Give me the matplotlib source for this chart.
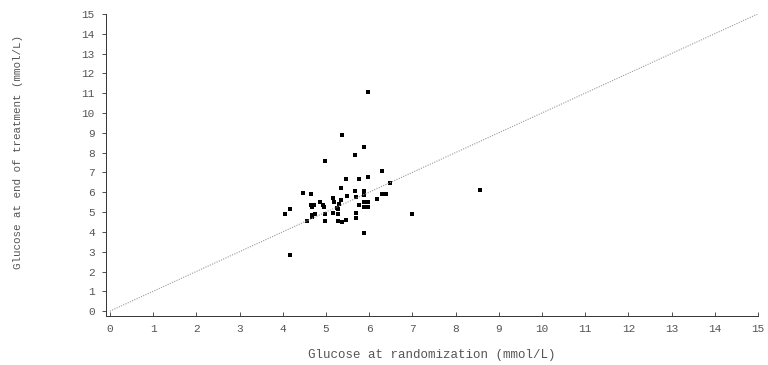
#!/usr/bin/env python3
from matplotlib import pyplot as plt
import numpy as np

# glucose at randomization (x) and at end of treatment (y), mmol/L
glucose_rand = [5.37, 5.89, 5.68, 4.97, 6.30, 5.46, 5.76, 5.97, 6.48, 4.47,
                4.66, 5.36, 5.68, 5.87, 5.48, 5.69, 5.88, 6.29, 6.38, 6.18,
                4.86, 5.17, 5.36, 5.19, 5.30, 4.66, 4.73, 4.94, 4.68, 4.96,
                5.26, 5.29, 5.77, 5.88, 5.98, 5.98, 5.88, 4.16, 4.06, 4.67,
                4.75, 4.97, 5.17, 5.27, 4.67, 5.69, 5.69, 4.56, 4.97, 5.27,
                5.37, 5.47, 6.99, 5.88, 4.17, 5.98, 8.56]
glucose_end = [8.89, 8.30, 7.88, 7.60, 7.09, 6.67, 6.68, 6.78, 6.45, 5.94,
               5.93, 6.19, 6.08, 6.08, 5.79, 5.74, 5.84, 5.93, 5.93, 5.66,
               5.52, 5.69, 5.61, 5.49, 5.42, 5.35, 5.34, 5.34, 5.24, 5.24,
               5.22, 5.14, 5.35, 5.49, 5.52, 5.24, 5.27, 5.13, 4.92, 4.85,
               4.88, 4.90, 4.95, 4.92, 4.75, 4.93, 4.70, 4.55, 4.55, 4.53,
               4.49, 4.61, 4.92, 3.92, 2.83, 11.07, 6.10]

ticks = np.arange(0, 16)
identity = [0, 15]

plt.rcParams['font.family'] = ['Liberation Mono', 'DejaVu Sans Mono']

fig = plt.figure(figsize=(7.68, 3.65), dpi=100)
ax = fig.add_axes([0.138, 0.134, 0.849, 0.828])

ax.plot(identity, identity, color="#999999", linestyle=(0, (1, 1.2)), linewidth=0.8)
ax.scatter(glucose_rand, glucose_end, marker="s", s=5, color="black", linewidths=0)

ax.set_xlim(-0.09, 15)
ax.set_ylim(-0.25, 15)
ax.set_xticks(ticks)
ax.set_yticks(ticks)
ax.tick_params(labelsize=8, labelcolor="#555555", length=3, width=0.6, color="#333333")
ax.tick_params(axis="x", direction="in", pad=6)
ax.tick_params(axis="y", pad=5)

for side in ["top", "right"]:
    ax.spines[side].set_visible(False)
for side in ["left", "bottom"]:
    ax.spines[side].set_linewidth(0.7)
    ax.spines[side].set_color("#333333")

ax.set_xlabel("Glucose at randomization (mmol/L)", fontsize=9, color="#555555", va="center")
ax.set_ylabel("Glucose at end of treatment (mmol/L)", fontsize=7.8, color="#555555", va="center")
ax.xaxis.set_label_coords(0.5, -0.129)
ax.yaxis.set_label_coords(-0.135, 0.543)

fig.savefig("out.png", dpi=100)
plt.close(fig)
